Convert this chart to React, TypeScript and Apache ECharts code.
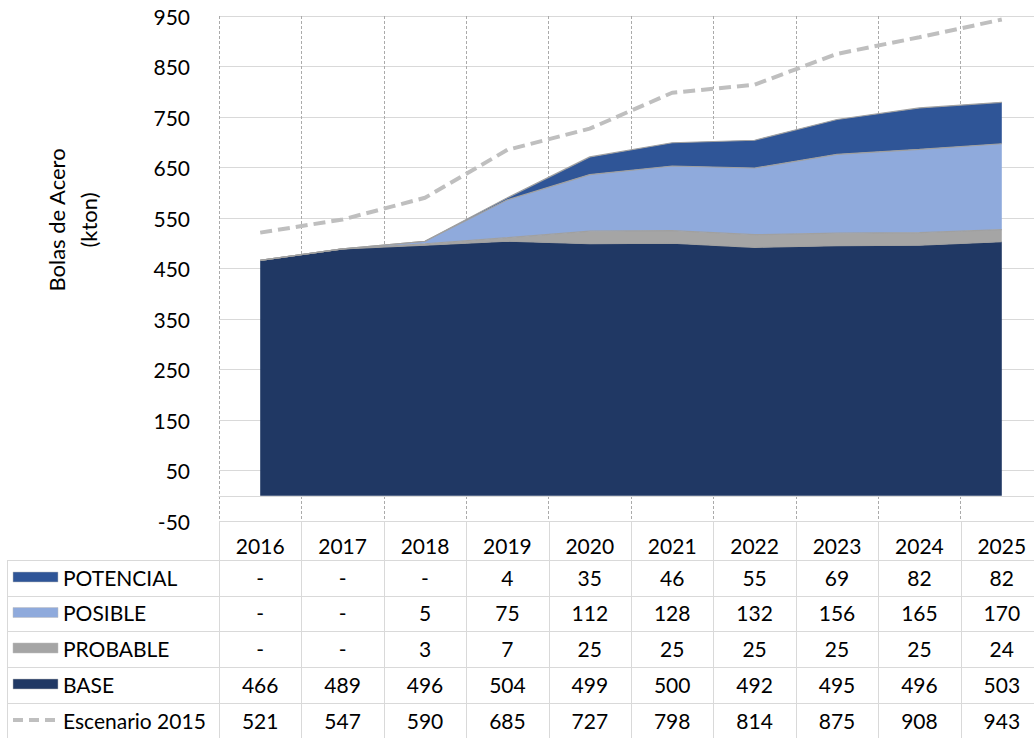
import React, { useEffect, useRef } from 'react';
import * as echarts from 'echarts';

const years = ['2016', '2017', '2018', '2019', '2020', '2021', '2022', '2023', '2024', '2025'];
const potencial: (number | null)[] = [null, null, null, 4, 35, 46, 55, 69, 82, 82];
const posible: (number | null)[] = [null, null, 5, 75, 112, 128, 132, 156, 165, 170];
const probable: (number | null)[] = [null, null, 3, 7, 25, 25, 25, 25, 25, 24];
const base: (number | null)[] = [466, 489, 496, 504, 499, 500, 492, 495, 496, 503];
const escenario2015: (number | null)[] = [521, 547, 590, 685, 727, 798, 814, 875, 908, 943];

const seriesNames = ['BASE', 'PROBABLE', 'POSIBLE', 'POTENCIAL', 'Escenario 2015'];
const axisTitle = 'Bolas de Acero\n(kton)';

const FONT = 'Lato, "Open Sans", sans-serif';
const FS = 21;
const C_BASE = '#203864';
const C_PROB = '#A5A5A5';
const C_POS = '#8FAADC';
const C_POT = '#2F5597';
const C_ESC = '#BFBFBF';
const GRID = '#D9D9D9';

export default function App() {
  const ref = useRef<HTMLDivElement>(null);

  useEffect(() => {
    const chart = echarts.init(ref.current!, null, { renderer: 'svg' });
    const z = (a: (number | null)[]) => a.map((v) => (v == null ? 0 : v));
    const areaSeries = (name: string, data: (number | null)[], color: string) => ({
      name,
      type: 'line',
      stack: 'total',
      data: z(data),
      symbol: 'none',
      color,
      lineStyle: { color: '#A0A0A0', width: 1.2 },
      areaStyle: { color, opacity: 1 },
    });

    chart.setOption({
      animation: false,
      backgroundColor: '#ffffff',
      textStyle: { fontFamily: FONT },
      grid: { left: 219, right: 0, top: 16, bottom: 217, containLabel: false },
      xAxis: {
        type: 'category',
        data: years,
        boundaryGap: true,
        axisLine: { show: true, onZero: true, lineStyle: { color: GRID, width: 1 } },
        axisTick: { show: false },
        axisLabel: { show: true, margin: 14, fontSize: FS, color: '#000', fontFamily: FONT, lineHeight: 21 },
        splitLine: { show: true, lineStyle: { color: '#AAAAAA', width: 1, type: [3, 2] } },
      },
      yAxis: {
        type: 'value',
        min: -50,
        max: 950,
        interval: 100,
        axisLine: { show: false },
        axisTick: { show: false },
        axisLabel: { margin: 29, fontSize: FS, color: '#000', fontFamily: FONT },
        splitLine: { show: true, lineStyle: { color: GRID, width: 1 } },
      },
      series: [
        areaSeries(seriesNames[0], base, C_BASE),
        areaSeries(seriesNames[1], probable, C_PROB),
        areaSeries(seriesNames[2], posible, C_POS),
        areaSeries(seriesNames[3], potencial, C_POT),
        {
          name: seriesNames[4],
          type: 'line',
          data: escenario2015,
          symbol: 'none',
          color: C_ESC,
          lineStyle: { color: C_ESC, width: 4, type: [12, 6] },
          z: 5,
        },
      ],
    });

    const cx = years.map((_, i) => chart.convertToPixel({ xAxisIndex: 0 }, i) as number);
    const step = cx[1] - cx[0];
    const yTop = chart.convertToPixel({ yAxisIndex: 0 }, -50) as number;
    const rowLines = [560, 596, 631, 667, 703, 739];
    const H = 738;
    const g: any[] = [];
    const hline = (x1: number, x2: number, y: number) =>
      g.push({ type: 'line', shape: { x1, y1: y + 0.5, x2, y2: y + 0.5 }, style: { stroke: GRID, lineWidth: 1 }, silent: true });
    const vline = (x: number, y1: number, y2: number) =>
      g.push({ type: 'line', shape: { x1: x + 0.5, y1, x2: x + 0.5, y2 }, style: { stroke: GRID, lineWidth: 1 }, silent: true });

    rowLines.forEach((y) => hline(7, 1043, y));
    vline(7, rowLines[0], H);
    for (let k = 0; k <= years.length; k++) {
      const bx = Math.round(cx[0] - step / 2 + k * step);
      vline(bx, yTop, H);
    }

    const rows = [
      { name: 'POTENCIAL', values: potencial, color: C_POT, dash: false },
      { name: 'POSIBLE', values: posible, color: C_POS, dash: false },
      { name: 'PROBABLE', values: probable, color: C_PROB, dash: false },
      { name: 'BASE', values: base, color: C_BASE, dash: false },
      { name: 'Escenario 2015', values: escenario2015, color: C_ESC, dash: true },
    ];

    rows.forEach((r, ri) => {
      const cy = (rowLines[ri] + rowLines[ri + 1]) / 2 - 1;
      if (r.dash) {
        g.push({ type: 'line', shape: { x1: 13, y1: cy, x2: 58, y2: cy }, style: { stroke: r.color, lineWidth: 4, lineDash: [10, 6] } });
      } else {
        g.push({ type: 'rect', shape: { x: 13, y: cy - 5, width: 45, height: 10 }, style: { fill: r.color, stroke: '#BFBFBF', lineWidth: 0.5 } });
      }
      g.push({ type: 'text', x: 63, y: cy, style: { text: r.name, fontSize: FS, fontFamily: FONT, fill: '#000', align: 'left', verticalAlign: 'middle' } });
      r.values.forEach((v, i) => {
        g.push({ type: 'text', x: cx[i], y: cy, style: { text: v == null ? '-' : String(v), fontSize: FS, fontFamily: FONT, fill: '#000', align: 'center', verticalAlign: 'middle' } });
      });
    });

    g.push({
      type: 'text',
      x: 72,
      y: 220,
      rotation: Math.PI / 2,
      style: { text: axisTitle, fontSize: 22, fontFamily: FONT, fill: '#000', align: 'center', verticalAlign: 'middle', lineHeight: 32 },
    });

    chart.setOption({ graphic: g });
    return () => chart.dispose();
  }, []);

  return (
    <div style={{ position: 'fixed', left: 0, top: 0, width: 1034, height: 738, overflow: 'hidden', background: '#fff' }}>
      <div ref={ref} style={{ width: 1043, height: 738 }} />
    </div>
  );
}
